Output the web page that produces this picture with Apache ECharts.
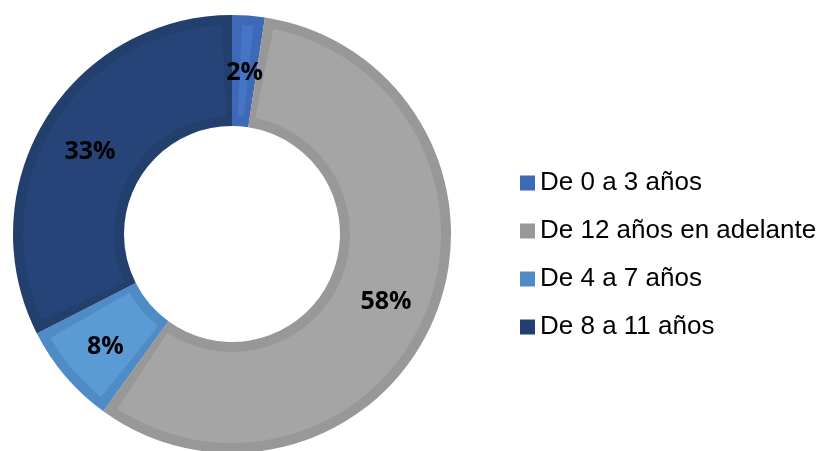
<!DOCTYPE html>
<html>
<head>
<meta charset="utf-8">
<script src="https://cdn.jsdelivr.net/npm/echarts@6/dist/echarts.min.js"></script>
<style>
  html, body { margin: 0; padding: 0; background: #fff; }
  #chart { width: 824px; height: 451px; }
</style>
</head>
<body>
<div id="chart"></div>
<script>
// datos
var categories = ['De 0 a 3 años', 'De 12 años en adelante', 'De 4 a 7 años', 'De 8 a 11 años'];
var values = [2.4, 57.6, 7.5, 32.5];
var edgeColors = ['#3d69b6', '#989898', '#4f8cc6', '#233f6d'];
var fillColors = ['#4675c8', '#a5a5a5', '#5b9bd5', '#264478'];

var chart = echarts.init(document.getElementById('chart'));

var baseData = categories.map(function (name, i) {
  return { name: name, value: values[i], itemStyle: { color: edgeColors[i] } };
});
var topData = categories.map(function (name, i) {
  return { name: name, value: values[i], itemStyle: { color: fillColors[i] } };
});

var option = {
  animation: false,
  legend: {
    orient: 'vertical',
    left: 520,
    top: 170,
    padding: 0,
    data: categories,
    itemWidth: 15,
    itemHeight: 15,
    itemGap: 22,
    icon: 'rect',
    textStyle: { fontFamily: 'Liberation Sans', fontSize: 26, color: '#000' }
  },
  series: [
    {
      // borde oscuro (efecto biselado)
      type: 'pie',
      center: [232, 234],
      radius: [108, 219],
      startAngle: 90,
      silent: true,
      label: { show: false },
      labelLine: { show: false },
      data: baseData
    },
    {
      type: 'pie',
      center: [232, 234],
      radius: [118, 209],
      startAngle: 90,
      padAngle: 5.5,
      silent: true,
      legendHoverLink: false,
      label: {
        show: true,
        position: 'inside',
        // linea vacia arriba para bajar el texto unos px
        formatter: function (p) { return '{s|}\n{t|' + Math.round(p.percent) + '%}'; },
        rich: {
          s: { height: 10, lineHeight: 10 },
          t: { fontFamily: 'Open Sans', fontWeight: 'bold', fontSize: 25, color: '#000', lineHeight: 30 }
        }
      },
      labelLine: { show: false },
      data: topData
    }
  ]
};

chart.setOption(option);
</script>
</body>
</html>
